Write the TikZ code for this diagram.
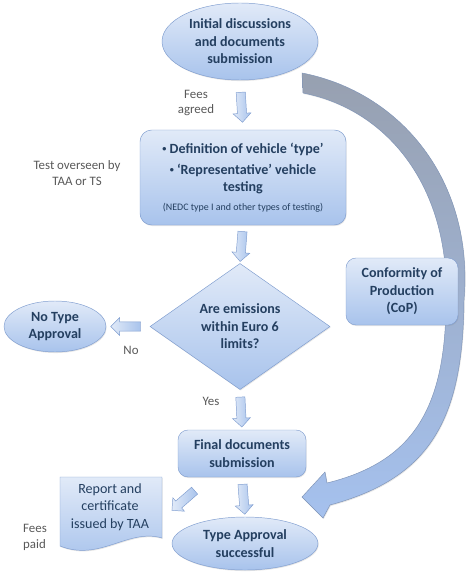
\documentclass[tikz,border=0pt]{standalone}
\usepackage{fontspec}
\setmainfont{Carlito}
\usetikzlibrary{shapes.geometric,shapes.arrows,shadows}

\definecolor{fillTop}{HTML}{E1EAF8}
\definecolor{fillBot}{HTML}{A8C3EC}
\definecolor{edgeBlue}{HTML}{7F9DCF}
\definecolor{ink}{HTML}{243F60}
\definecolor{noteGray}{HTML}{595959}
\definecolor{bendTop}{HTML}{97A0B0}
\definecolor{bendBot}{HTML}{A5C1EE}

\newcommand{\dotitem}{\raisebox{0.25ex}{\fontsize{7}{7}\selectfont•}\ }

\begin{document}
\begin{tikzpicture}[
  x=0.3mm, y=-0.3mm,
  soft/.style={draw=edgeBlue, top color=fillTop, bottom color=fillBot,
    drop shadow={opacity=0.2, shadow xshift=0.6pt, shadow yshift=-0.9pt}},
  oval/.style={soft, ellipse, inner sep=0pt, align=center, text=ink,
    font=\bfseries\fontsize{12}{15}\selectfont},
  box/.style={soft, rectangle, rounded corners=3.5mm, inner sep=0pt, align=center,
    text=ink, font=\bfseries\fontsize{12}{15}\selectfont},
  decision/.style={soft, diamond, inner sep=0pt, align=center, text=ink,
    font=\bfseries\fontsize{12}{15}\selectfont},
  doc/.style={soft},
  doctext/.style={align=center, text=ink, font=\fontsize{12}{15}\selectfont},
  note/.style={align=center, text=noteGray, font=\fontsize{11}{13.6}\selectfont},
  blockarr/.style={single arrow, draw=edgeBlue, top color=fillTop, bottom color=fillBot,
    shading angle=90, inner sep=1.3mm, minimum height=9mm,
    single arrow head extend=1.3mm, sloped, allow upside down},
  returnarrow/.style={draw=edgeBlue!70!gray, top color=bendTop, bottom color=bendBot,
    drop shadow={opacity=0.2, shadow xshift=0.6pt, shadow yshift=-0.9pt}}
]
\useasboundingbox (0,0) rectangle (474,576);

% Return path for conformity of production
\path[returnarrow] (302,73) .. controls (400,92) and (474,180) .. (464,300)
  .. controls (463,420) and (430,478) .. (330,505)
  -- (323,518) -- (302,497) -- (325,472) -- (327,483)
  .. controls (412,462) and (446,410) .. (446,300)
  .. controls (450,190) and (390,110) .. (303,93) -- cycle;

% Main steps
\node[oval, minimum width=46.8mm, minimum height=23.1mm] (init) at (240,41.5)
  {Initial discussions\\and documents\\submission};
\node[box, minimum width=61.8mm, minimum height=28.5mm] (defn) at (243,177.5)
  {\dotitem Definition of vehicle ‘type’\\[3pt]
   \dotitem ‘Representative’ vehicle\\testing\\[1pt]
   {\mdseries\fontsize{8.5}{10}\selectfont (NEDC type I and other types of testing)}};
\node[decision, minimum width=54mm, minimum height=32.1mm] (check) at (240,326.5)
  {Are emissions\\within Euro 6\\limits?};
\node[oval, minimum width=30.6mm, minimum height=15.3mm] (reject) at (55,326.5)
  {No Type\\Approval};
\node[box, rounded corners=3mm, minimum width=33.6mm, minimum height=20.1mm] (cop) at (402,291.5)
  {Conformity of\\Production\\(CoP)};
\node[box, rounded corners=3mm, minimum width=38.4mm, minimum height=14.1mm] (final) at (242,453.5)
  {Final documents\\submission};
\node[oval, minimum width=43.8mm, minimum height=15.9mm] (approved) at (245,543.5)
  {Type Approval\\successful};

% Report document
\path[doc] (60,477) -- (162,477) -- (162,538)
  .. controls (128,528) and (100,562) .. (60,546) -- cycle;
\node[doctext] (report) at (110,507) {Report and\\certificate\\issued by TAA};

% Block arrows
\path (init.south) -- (defn.north) node[midway, blockarr] (a1) {};
\path (defn.south) -- (check.north) node[midway, blockarr] (a2) {};
\path (check.west) -- (reject.east) node[midway, blockarr] (a3) {};
\path (check.south) -- (final.north) node[midway, blockarr] (a4) {};
\path (final.south) -- (approved.north) node[midway, blockarr] (a5) {};
\node[blockarr, rotate=221] (a6) at (185,499) {};

% Side notes
\node[note] (fees1) at (196,103) {Fees\\agreed};
\node[note] (test) at (77,173) {Test overseen by\\TAA or TS};
\node[note] (no) at (131,350) {No};
\node[note] (yes) at (211,401) {Yes};
\node[note, align=left] (fees2) at (35,537) {Fees\\paid};

\end{tikzpicture}
\end{document}
